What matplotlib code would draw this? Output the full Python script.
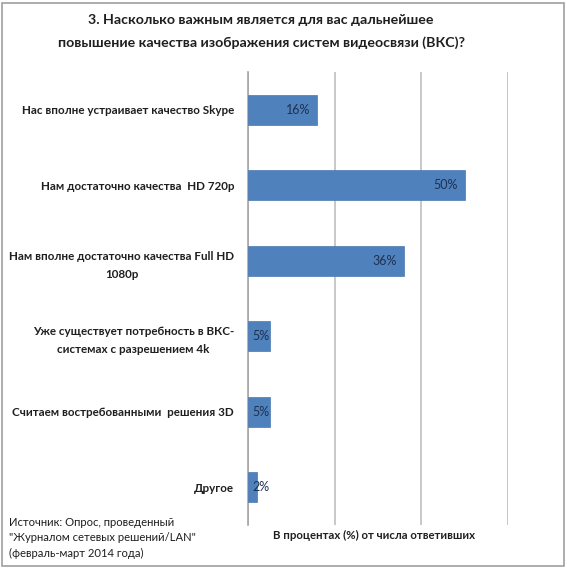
import matplotlib
matplotlib.use("Agg")
import matplotlib.pyplot as plt
from matplotlib.patches import Rectangle

categories = [
    "Нас вполне устраивает качество Skype",
    "Нам достаточно качества  HD 720p",
    "Нам вполне достаточно качества Full HD\n1080p",
    "Уже существует потребность в ВКС-\nсистемах с разрешением 4k",
    "Считаем востребованными  решения 3D",
    "Другое",
]
values = [16, 50, 36, 5, 5, 2]
value_labels = ["16%", "50%", "36%", "5%", "5%", "2%"]
xticks = [0, 20, 40, 60]

plt.rcParams['font.family'] = ['Lato', 'DejaVu Sans']

W, H = 567, 569
fig = plt.figure(figsize=(W / 100, H / 100), dpi=100)
fig.patch.set_facecolor("white")

ax = fig.add_axes([248 / W, 1 - 525 / H, (508 - 248) / W, (525 - 72) / H])
y = list(range(len(categories)))
ax.barh(y, values, height=0.4, color="#4F81BD", edgecolor="#4A78B0", linewidth=0.5, zorder=3)
ax.set_ylim(len(categories) - 0.5, -0.5)
ax.set_xlim(0, 60)
ax.set_xticks(xticks)
ax.set_xticklabels([])
ax.tick_params(axis="x", length=0)
ax.tick_params(axis="y", length=0, pad=10)
ax.grid(axis="x", color="#BFBFBF", linewidth=1.2, zorder=0)
for s in ["top", "right", "bottom"]:
    ax.spines[s].set_visible(False)
ax.spines["left"].set_color("#A6A6A6")
ax.spines["left"].set_linewidth(1.2)
ax.set_yticks(y)
ax.set_yticklabels(categories, fontsize=8.4, fontweight="bold", color="#1F1F1F", linespacing=1.75)
for lab in ax.get_yticklabels():
    lab.set_horizontalalignment("right")
    lab.set_multialignment("center")

for yi, v, t in zip(y, values, value_labels):
    ax.text(v - 1.6 if v > 10 else 1.0, yi, t, ha="right" if v > 10 else "left", va="center",
            fontsize=9, color="#1F3050", zorder=4)

fig.text(261 / W, 1 - 20 / H, "3. Насколько важным является для вас дальнейшее", ha="center", va="center",
         fontsize=10.2, fontweight="bold", color="#1F1F1F")
fig.text(261 / W, 1 - 43 / H, "повышение качества изображения систем видеосвязи (ВКС)?", ha="center", va="center",
         fontsize=10.2, fontweight="bold", color="#1F1F1F")

fig.text(9 / W, 1 - 538 / H, "Источник: Опрос, проведенный\n\"Журналом сетевых решений/LAN\"\n(февраль-март 2014 года)",
         ha="left", va="center", fontsize=8.1, color="#1F1F1F", linespacing=1.55)
fig.text(374 / W, 1 - 535 / H, "В процентах (%) от числа ответивших", ha="center", va="center",
         fontsize=8.2, fontweight="bold", color="#1F1F1F")

fig.patches.append(Rectangle((2 / W, 3 / H), (564 - 2) / W, (566 - 3) / H, transform=fig.transFigure,
                             fill=False, edgecolor="#A0A0A0", linewidth=1.2))

fig.savefig("out.png", dpi=100)
